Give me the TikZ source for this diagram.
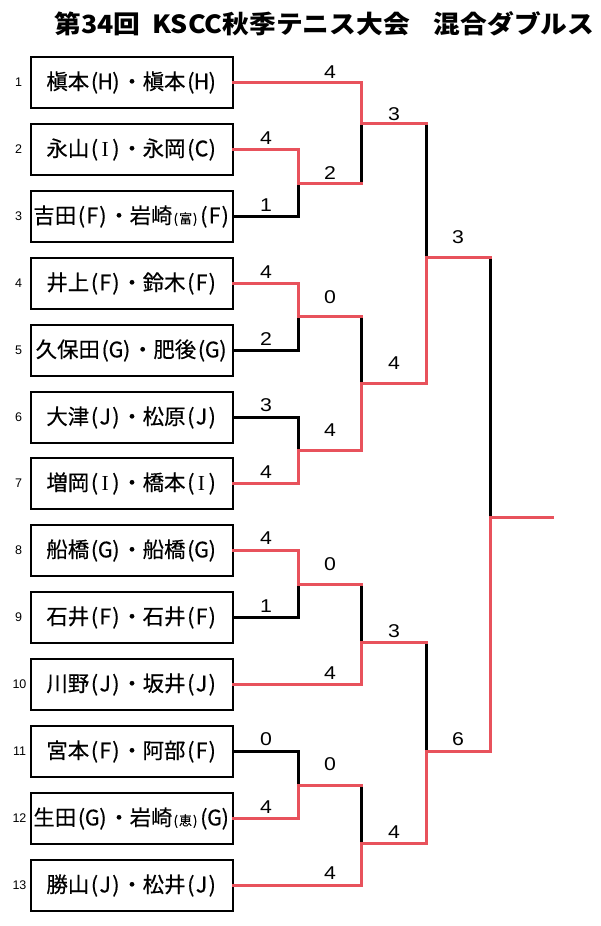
\documentclass[tikz,border=0pt]{standalone}
\usepackage{fontspec}
\setmainfont{Noto Sans CJK JP}
\newfontfamily\titlefont[FakeStretch=1.07]{Noto Sans CJK JP}
\newfontfamily\namefont[FakeBold=0.4]{Noto Sans CJK JP}
\newfontfamily\romanfont{Liberation Serif}
\newfontfamily\scorefont[FakeStretch=1.15]{Liberation Sans}
\newfontfamily\seedfont{Liberation Sans}
\definecolor{winred}{RGB}{232,82,92}
% half-width cells as in a fixed-width gothic
\newcommand{\hw}[1]{\makebox[0.5em]{#1}}
\newcommand{\tm}[1]{\hw{(}\hw{#1}\hw{)}}
\newcommand{\club}[1]{{\fontsize{13}{13}\selectfont\hw{(}#1\hw{)}}}
\tikzset{
  title/.style={font=\titlefont\bfseries\fontsize{25}{25}\selectfont},
  pair/.style={draw, line width=1.7pt, minimum width=202pt, minimum height=51pt,
    inner sep=0pt, font=\namefont\fontsize{21.4}{21.4}\selectfont},
  seed/.style={font=\seedfont\fontsize{12.5}{12.5}\selectfont},
  score/.style={font=\scorefont\fontsize{18.5}{18.5}\selectfont},
  win/.style={draw=winred, line width=3pt, line cap=rect},
  lose/.style={draw=black, line width=3pt, line cap=rect},
}
\begin{document}
\begin{tikzpicture}[x=1pt,y=-1pt]
      \useasboundingbox (0,0) rectangle (600,926);
      \node[title] (title) at (324.5,24) {第34回\hspace{12pt}KSCC秋季テニス大会\hspace{24pt}混合ダブルス};
      \draw
        (132,82.5) node[pair] (p1){槇本\tm{H}・槇本\tm{H}}
        (132,149.5) node[pair] (p2){永山\tm{\romanfont I}・永岡\tm{C}}
        (132,216.5) node[pair] (p3){吉田\tm{F}・岩崎\club{富}\tm{F}}
        (132,283.5) node[pair] (p4){井上\tm{F}・鈴木\tm{F}}
        (132,350.5) node[pair] (p5){久保田\tm{G}・肥後\tm{G}}
        (132,417.5) node[pair] (p6){大津\tm{J}・松原\tm{J}}
        (132,483.5) node[pair] (p7){増岡\tm{\romanfont I}・橋本\tm{\romanfont I}}
        (132,550.5) node[pair] (p8){船橋\tm{G}・船橋\tm{G}}
        (132,617.5) node[pair] (p9){石井\tm{F}・石井\tm{F}}
        (132,684.5) node[pair] (p10){川野\tm{J}・坂井\tm{J}}
        (132,751.5) node[pair] (p11){宮本\tm{F}・阿部\tm{F}}
        (132,818.5) node[pair] (p12){生田\tm{G}・岩崎\club{恵}\tm{G}}
        (132,885.5) node[pair] (p13){勝山\tm{J}・松井\tm{J}};
      \path[seed]
        (18.5,82.5) node (n1){1}
        (18.5,149.5) node (n2){2}
        (18.5,216.5) node (n3){3}
        (18.5,283.5) node (n4){4}
        (18.5,350.5) node (n5){5}
        (18.5,417.5) node (n6){6}
        (18.5,483.5) node (n7){7}
        (18.5,550.5) node (n8){8}
        (18.5,617.5) node (n9){9}
        (19.5,684.5) node (n10){10}
        (19.5,751.5) node (n11){11}
        (19.5,818.5) node (n12){12}
        (19.5,885.5) node (n13){13};
      % junctions of the bracket
      \coordinate (mA) at (298.5,183.5);
      \coordinate (mB) at (361.5,123.5);
      \coordinate (mC) at (298.5,316.5);
      \coordinate (mD) at (298.5,450.5);
      \coordinate (mE) at (361.5,383.5);
      \coordinate (mF) at (426.5,257.5);
      \coordinate (mG) at (298.5,584.5);
      \coordinate (mH) at (361.5,642.5);
      \coordinate (mI) at (298.5,785.5);
      \coordinate (mJ) at (361.5,843.5);
      \coordinate (mK) at (426.5,751.5);
      \coordinate (mZ) at (490.5,517.5);
      \coordinate (end) at (552,517.5);
      \begin{scope}
        \draw[lose] (p3.east) -| (mA);
        \draw[lose] (p5.east) -| (mC);
        \draw[lose] (p6.east) -| (mD);
        \draw[lose] (p9.east) -| (mG);
        \draw[lose] (p11.east) -| (mI);
        \draw[lose] (mA -| mB) -- (mB);
        \draw[lose] (mC -| mE) -- (mE);
        \draw[lose] (mB -| mF) -- (mF);
        \draw[lose] (mG -| mH) -- (mH);
        \draw[lose] (mI -| mJ) -- (mJ);
        \draw[lose] (mH -| mK) -- (mK);
        \draw[lose] (mF -| mZ) -- (mZ);
        \draw[win] (p1.east) -| (mB);
        \draw[win] (p2.east) -| (mA);
        \draw[win] (p4.east) -| (mC);
        \draw[win] (p7.east) -| (mD);
        \draw[win] (p8.east) -| (mG);
        \draw[win] (p10.east) -| (mH);
        \draw[win] (p12.east) -| (mI);
        \draw[win] (p13.east) -| (mJ);
        \draw[win] (mA) -- (mA -| mB);
        \draw[win] (mC) -- (mC -| mE);
        \draw[win] (mD) -| (mE);
        \draw[win] (mB) -- (mB -| mF);
        \draw[win] (mE) -| (mF);
        \draw[win] (mG) -- (mG -| mH);
        \draw[win] (mI) -- (mI -| mJ);
        \draw[win] (mH) -- (mH -| mK);
        \draw[win] (mJ) -| (mK);
        \draw[win] (mF) -- (mF -| mZ);
        \draw[win] (mK) -| (mZ);
        \draw[win] (mZ) -- (end);
      \end{scope}
      \path[score]
        (330,72) node (s1){4}
        (266,138) node (s2){4}
        (266,205) node (s3){1}
        (330,173) node (sA){2}
        (394,114) node (sB){3}
        (458,237) node (sF){3}
        (266,272) node (s4){4}
        (330,297) node (sC){0}
        (266,339) node (s5){2}
        (394,363) node (sE){4}
        (266,405) node (s6){3}
        (330,430) node (sD){4}
        (266,472) node (s7){4}
        (266,538) node (s8){4}
        (330,564) node (sG){0}
        (266,606) node (s9){1}
        (394,631) node (sH){3}
        (330,673) node (s10){4}
        (266,739) node (s11){0}
        (330,764) node (sI){0}
        (458,739) node (sK){6}
        (266,807) node (s12){4}
        (394,832) node (sJ){4}
        (330,873) node (s13){4};
    \end{tikzpicture}
\end{document}
